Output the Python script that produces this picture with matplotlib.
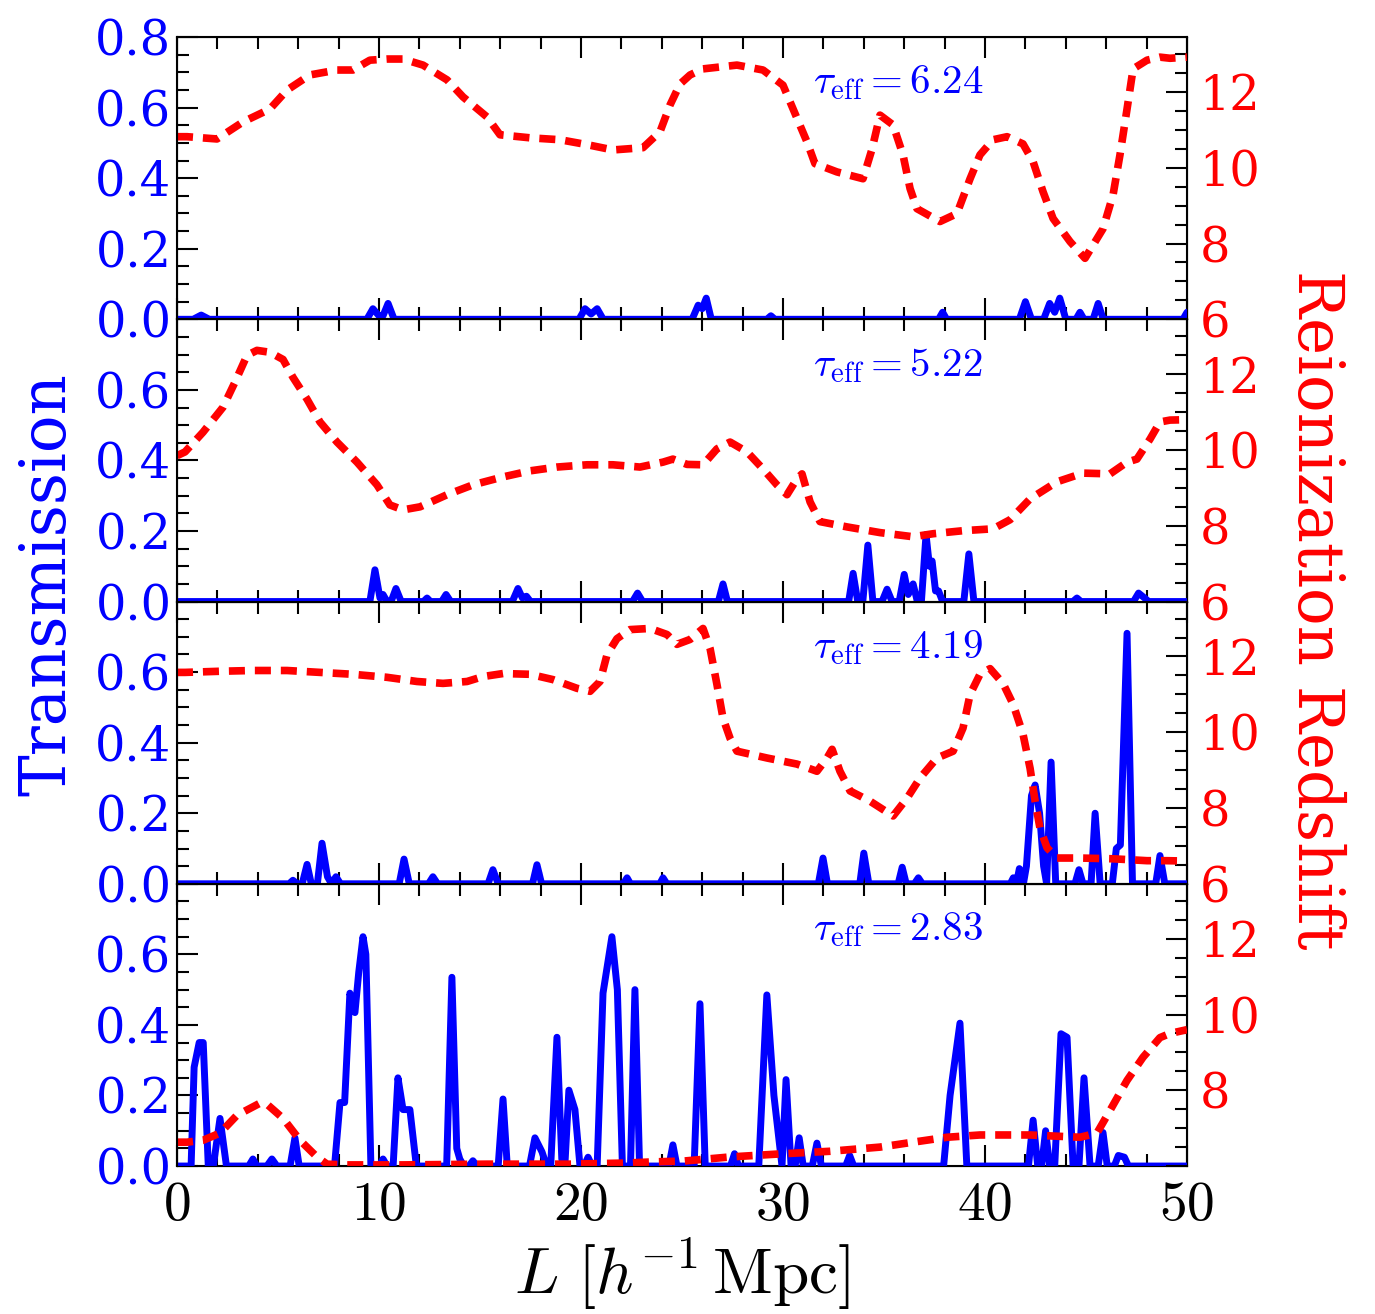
import matplotlib
matplotlib.use("Agg")
import matplotlib.pyplot as plt
from matplotlib.ticker import MultipleLocator

plt.rcParams["font.family"] = "DejaVu Serif"
plt.rcParams["mathtext.fontset"] = "cm"

# optical depths shown in each panel
tau_eff = ["6.24", "5.22", "4.19", "2.83"]

# reionization redshift along the sightline (red dashed, right axis)
zre_x1 = [0.0, 0.5, 1.98, 3.27, 4.6, 5.45, 6.58, 7.92, 8.71, 9.55, 10.4, 11.19, 12.18, 13.37,
          14.16, 15.35, 15.99, 17.48, 18.96, 20.3, 21.58, 23.07, 23.91, 24.41, 24.9, 25.4,
          26.04, 27.72, 29.01, 30.0, 30.5, 31.19, 31.58, 32.67, 33.96, 34.41, 34.8, 35.45,
          35.94, 36.29, 36.63, 37.77, 38.61, 39.26, 39.75, 40.4, 41.09, 41.88, 42.38, 42.87,
          43.37, 44.21, 44.95, 45.84, 46.34, 46.68, 47.03, 47.33, 48.02, 48.66, 49.16, 50.0]
zre_y1 = [10.82, 10.82, 10.76, 11.21, 11.55, 12.05, 12.45, 12.58, 12.58, 12.84, 12.87, 12.87,
          12.71, 12.32, 11.87, 11.34, 10.87, 10.79, 10.74, 10.61, 10.47, 10.53, 10.95, 11.66,
          12.21, 12.45, 12.61, 12.71, 12.58, 12.18, 11.55, 10.68, 10.11, 9.89, 9.71, 10.5,
          11.39, 11.13, 10.34, 9.45, 8.92, 8.58, 8.79, 9.71, 10.34, 10.74, 10.82, 10.63,
          10.16, 9.37, 8.66, 8.05, 7.61, 8.39, 9.29, 10.34, 11.55, 12.61, 12.84, 12.92,
          12.89, 12.92]

zre_x2 = [0.0, 0.4, 1.29, 2.28, 2.87, 3.47, 3.96, 4.6, 5.25, 5.74, 6.44, 7.08, 7.92, 8.91,
          9.9, 10.54, 11.19, 12.03, 13.37, 14.65, 16.14, 17.48, 18.81, 20.3, 21.58, 22.92,
          24.06, 24.55, 25.25, 26.04, 26.73, 27.38, 28.22, 29.01, 29.7, 30.2, 30.69, 30.94,
          31.34, 31.83, 33.17, 34.8, 36.44, 37.43, 38.91, 40.4, 41.24, 42.23, 43.56, 44.85,
          46.19, 47.03, 47.52, 48.17, 48.66, 49.16, 50.0]
zre_y2 = [9.85, 9.95, 10.47, 11.13, 11.79, 12.5, 12.63, 12.58, 12.39, 11.92, 11.34, 10.74,
          10.21, 9.68, 9.08, 8.55, 8.42, 8.5, 8.82, 9.08, 9.29, 9.45, 9.55, 9.61, 9.61, 9.55,
          9.68, 9.76, 9.62, 9.61, 10.03, 10.21, 9.95, 9.5, 9.08, 8.82, 9.24, 9.37, 8.63, 8.11,
          7.97, 7.82, 7.71, 7.79, 7.87, 7.92, 8.16, 8.71, 9.16, 9.39, 9.37, 9.68, 9.76, 10.29,
          10.74, 10.79, 10.8]

zre_x3 = [0.0, 0.4, 2.13, 3.76, 5.45, 7.08, 8.71, 10.4, 11.88, 13.17, 14.36, 15.15, 16.14,
          17.48, 18.61, 19.8, 20.45, 20.94, 21.29, 21.78, 22.43, 23.42, 24.26, 24.75, 25.4,
          26.04, 26.39, 26.73, 27.03, 27.38, 27.72, 29.21, 30.69, 31.68, 32.18, 32.43, 32.82,
          33.32, 34.31, 35.45, 36.14, 36.78, 37.62, 38.42, 38.91, 39.26, 39.75, 40.25, 40.89,
          41.39, 41.88, 42.23, 42.48, 42.72, 43.07, 43.56, 44.7, 46.34, 48.02, 49.0, 50.0]
zre_y3 = [11.58, 11.58, 11.61, 11.63, 11.63, 11.58, 11.53, 11.45, 11.34, 11.29, 11.34, 11.47,
          11.55, 11.53, 11.39, 11.16, 11.08, 11.34, 12.05, 12.47, 12.71, 12.74, 12.58, 12.32,
          12.45, 12.74, 12.21, 11.26, 10.37, 9.84, 9.5, 9.32, 9.16, 8.97, 9.32, 9.55, 8.97,
          8.45, 8.18, 7.79, 8.26, 8.79, 9.32, 9.5, 10.11, 11.0, 11.53, 11.68, 11.29, 10.74,
          9.95, 9.05, 8.18, 7.47, 6.95, 6.68, 6.68, 6.66, 6.61, 6.61, 6.6]

zre_x4 = [0.0, 0.5, 1.29, 2.13, 2.97, 4.11, 4.46, 5.25, 6.09, 6.93, 7.43, 8.42, 11.19, 15.35,
          19.46, 22.28, 23.56, 25.05, 27.38, 29.85, 32.33, 34.8, 36.44, 38.12, 39.75, 42.23,
          44.7, 45.54, 46.19, 47.03, 47.82, 48.66, 49.16, 50.0]
zre_y4 = [6.63, 6.63, 6.68, 6.87, 7.34, 7.66, 7.63, 7.26, 6.68, 6.24, 6.05, 6.03, 6.03, 6.05,
          6.05, 6.08, 6.11, 6.13, 6.24, 6.32, 6.39, 6.5, 6.63, 6.76, 6.82, 6.82, 6.76, 6.87,
          7.47, 8.26, 8.87, 9.39, 9.5, 9.6]

# transmitted flux (blue, left axis)
flux_x1 = [0.0, 0.8, 1.2, 1.6, 9.4, 9.7, 10.0, 10.2, 10.45, 10.75, 19.9, 20.2, 20.5, 20.8,
           21.1, 25.5, 25.8, 26.0, 26.2, 26.45, 29.2, 29.4, 29.6, 37.7, 37.9, 38.1, 41.7,
           42.0, 42.3, 42.9, 43.2, 43.45, 43.7, 44.0, 44.5, 44.7, 44.9, 45.35, 45.6, 45.85,
           49.8, 50.0]
flux_y1 = [0.0, 0.0, 0.012, 0.0, 0.0, 0.03, 0.01, 0.01, 0.045, 0.0, 0.0, 0.03, 0.015, 0.03,
           0.0, 0.0, 0.04, 0.03, 0.06, 0.0, 0.0, 0.01, 0.0, 0.0, 0.02, 0.0, 0.0,
           0.05, 0.0, 0.0, 0.045, 0.02, 0.06, 0.0, 0.0, 0.02, 0.0, 0.0, 0.045, 0.0,
           0.0, 0.02]

flux_x2 = [0.0, 9.55, 9.8, 10.05, 10.2, 10.4, 10.6, 10.84, 11.1, 12.2, 12.38, 12.55, 13.1,
           13.32, 13.55, 16.6, 16.88, 17.1, 17.3, 17.5, 22.55, 22.8, 23.05, 26.8, 27.03,
           27.25, 33.25, 33.47, 33.7, 33.95, 34.2, 34.45, 34.9, 35.15, 35.4, 35.75, 36.0,
           36.2, 36.44, 36.65, 36.85, 37.08, 37.25, 37.38, 37.55, 37.7, 37.9, 38.95, 39.2,
           39.45, 44.35, 44.55, 44.75, 47.35, 47.6, 47.9, 48.1, 50.0]
flux_y2 = [0.0, 0.0, 0.09, 0.01, 0.02, 0.0, 0.0, 0.037, 0.0, 0.0, 0.01, 0.0, 0.0,
           0.02, 0.0, 0.0, 0.037, 0.01, 0.015, 0.0, 0.0, 0.024, 0.0, 0.0, 0.05,
           0.0, 0.0, 0.08, 0.0, 0.0, 0.16, 0.0, 0.0, 0.035, 0.0, 0.0, 0.077,
           0.02, 0.05, 0.0, 0.0, 0.19, 0.1, 0.115, 0.03, 0.03, 0.0, 0.0, 0.135,
           0.0, 0.0, 0.01, 0.0, 0.0, 0.024, 0.01, 0.0, 0.0]

flux_x3 = [0.0, 5.55, 5.74, 5.95, 6.2, 6.44, 6.65, 6.95, 7.18, 7.45, 7.65, 7.87, 8.1, 11.0,
           11.24, 11.5, 12.45, 12.67, 12.9, 15.4, 15.64, 15.9, 17.6, 17.82, 18.05, 22.1,
           22.28, 22.45, 23.9, 24.06, 24.25, 31.75, 31.98, 32.2, 33.8, 34.0, 34.25, 35.7,
           35.9, 36.1, 36.5, 36.7, 36.9, 41.25, 41.4, 41.55, 41.7, 41.9, 42.05, 42.3, 42.48,
           42.7, 42.9, 43.05, 43.27, 43.5, 44.45, 44.65, 44.85, 45.25, 45.45, 45.7, 46.3,
           46.5, 46.7, 47.03, 47.3, 48.45, 48.66, 48.9, 50.0]
flux_y3 = [0.0, 0.0, 0.01, 0.0, 0.0, 0.055, 0.0, 0.0, 0.115, 0.02, 0.0, 0.02, 0.0, 0.0,
           0.07, 0.0, 0.0, 0.02, 0.0, 0.0, 0.04, 0.0, 0.0, 0.054, 0.0, 0.0,
           0.017, 0.0, 0.0, 0.017, 0.0, 0.0, 0.073, 0.0, 0.0, 0.087, 0.0, 0.0,
           0.047, 0.0, 0.0, 0.017, 0.0, 0.0, 0.017, 0.0, 0.043, 0.0, 0.05, 0.25, 0.28,
           0.2, 0.05, 0.0, 0.345, 0.0, 0.0, 0.04, 0.0, 0.0, 0.2, 0.0, 0.0,
           0.1, 0.11, 0.71, 0.0, 0.0, 0.08, 0.0, 0.0]

flux_x4 = [0.0, 0.7, 0.85, 1.1, 1.3, 1.55, 1.8, 2.13, 2.45, 3.55, 3.76, 3.95, 4.45, 4.7, 4.95,
           5.6, 5.84, 6.05, 7.8, 8.07, 8.3, 8.56, 8.81, 9.0, 9.21, 9.35, 9.6, 10.0, 10.2, 10.4,
           10.7, 10.94, 11.19, 11.53, 11.85, 13.35, 13.61, 13.85, 14.0, 14.2, 14.45, 14.65,
           14.85, 15.9, 16.14, 16.35, 17.45, 17.72, 18.07, 18.3, 18.5, 18.81, 19.05, 19.2,
           19.4, 19.7, 19.95, 20.15, 20.35, 20.55, 20.8, 21.09, 21.53, 21.8, 22.05, 22.45,
           22.67, 22.9, 24.35, 24.55, 24.75, 25.6, 25.89, 26.15, 27.4, 27.6, 27.8, 28.8,
           29.2, 29.55, 29.95, 30.15, 30.4, 30.6, 30.8, 31.0, 31.45, 31.68, 31.9, 33.1, 33.3,
           33.5, 37.95, 38.27, 38.76, 39.1, 42.15, 42.38, 42.6, 42.8, 43.0, 43.2, 43.45,
           43.76, 44.06, 44.36, 44.65, 44.9, 45.2, 45.6, 45.84, 46.05, 46.4, 46.6, 46.9,
           47.1, 50.0]
flux_y4 = [0.0, 0.0, 0.28, 0.35, 0.35, 0.0, 0.0, 0.135, 0.0, 0.0, 0.02, 0.0, 0.0, 0.02, 0.0,
           0.0, 0.08, 0.0, 0.0, 0.18, 0.18, 0.49, 0.435, 0.55, 0.65, 0.6, 0.0, 0.0, 0.02, 0.0,
           0.0, 0.25, 0.16, 0.16, 0.0, 0.0, 0.535, 0.05, 0.02, 0.0, 0.0, 0.015,
           0.0, 0.0, 0.19, 0.0, 0.0, 0.08, 0.04, 0.0, 0.0, 0.365, 0.02, 0.0,
           0.215, 0.16, 0.0, 0.0, 0.025, 0.0, 0.0, 0.49, 0.65, 0.5, 0.0, 0.0,
           0.5, 0.0, 0.0, 0.06, 0.0, 0.0, 0.46, 0.0, 0.0, 0.035, 0.0, 0.0,
           0.485, 0.2, 0.0, 0.245, 0.0, 0.0, 0.08, 0.0, 0.0, 0.065, 0.0, 0.0, 0.03,
           0.0, 0.0, 0.2, 0.405, 0.0, 0.0, 0.13, 0.005, 0.0, 0.1, 0.0, 0.0,
           0.375, 0.365, 0.0, 0.0, 0.25, 0.0, 0.0, 0.095, 0.0, 0.0, 0.03, 0.025,
           0.0, 0.0]

flux_x = [flux_x1, flux_x2, flux_x3, flux_x4]
flux_y = [flux_y1, flux_y2, flux_y3, flux_y4]
zre_x = [zre_x1, zre_x2, zre_x3, zre_x4]
zre_y = [zre_y1, zre_y2, zre_y3, zre_y4]

fig, axes = plt.subplots(4, 1, sharex=True, figsize=(13.75, 13.14), dpi=100)
fig.subplots_adjust(left=0.1287, right=0.8633, bottom=0.1126, top=0.9718, hspace=0)

for i, ax in enumerate(axes):
    ax.plot(flux_x[i], flux_y[i], color="b", lw=5, solid_joinstyle="round",
            solid_capstyle="round", zorder=3)
    ax.set_xlim(0, 50)
    ax.set_ylim(0, 0.8)
    ax.set_yticks([0, 0.2, 0.4, 0.6, 0.8])
    if i == 0:
        ax.set_yticklabels(["0.0", "0.2", "0.4", "0.6", "0.8"])
    else:
        ax.set_yticklabels(["0.0", "0.2", "0.4", "0.6", ""])
    ax.yaxis.set_minor_locator(MultipleLocator(0.05))
    ax.set_xticks([0, 10, 20, 30, 40, 50])
    ax.set_xticklabels([f"${v}$" for v in [0, 10, 20, 30, 40, 50]])
    ax.xaxis.set_minor_locator(MultipleLocator(2))
    ax.tick_params(axis="x", which="both", direction="in", top=True, bottom=True,
                   width=1.5, labelsize=40, pad=8)
    ax.tick_params(axis="y", which="both", direction="in", width=1.5,
                   labelsize=34.5, labelcolor="b", pad=4)
    ax.tick_params(which="major", length=15)
    ax.tick_params(which="minor", length=8.5)
    for sp in ax.spines.values():
        sp.set_linewidth(1.5)

    ax2 = ax.twinx()
    ax2.plot(zre_x[i], zre_y[i], color="r", lw=5.5, ls="--", dashes=(2.1, 1.3))
    ax2.set_ylim(6, 13.45)
    ax2.set_yticks([6, 8, 10, 12])
    if i == 3:
        ax2.set_yticklabels(["", "8", "10", "12"])
    else:
        ax2.set_yticklabels(["6", "8", "10", "12"])
    ax2.yaxis.set_minor_locator(MultipleLocator(0.5))
    ax2.tick_params(axis="y", which="both", direction="in", width=1.5,
                    labelsize=34.5, labelcolor="r", pad=9)
    ax2.tick_params(which="major", length=15)
    ax2.tick_params(which="minor", length=8.5)

    ax.text(0.63, 0.80, r"$\tau_{\rm eff}=" + tau_eff[i] + "$", transform=ax.transAxes,
            color="b", fontsize=29.5, ha="left", va="baseline", zorder=5)

fig.text(0.035, 0.555, "Transmission", color="b", fontsize=45, rotation=90,
         ha="center", va="center")
fig.text(0.957, 0.536, "Reionization Redshift", color="r", fontsize=45, rotation=270,
         ha="center", va="center")
fig.text(0.496, 0.03, r"$L\ [h^{-1}\,\mathrm{Mpc}]$", fontsize=47, ha="center", va="center")

fig.savefig("out.png", dpi=100)
